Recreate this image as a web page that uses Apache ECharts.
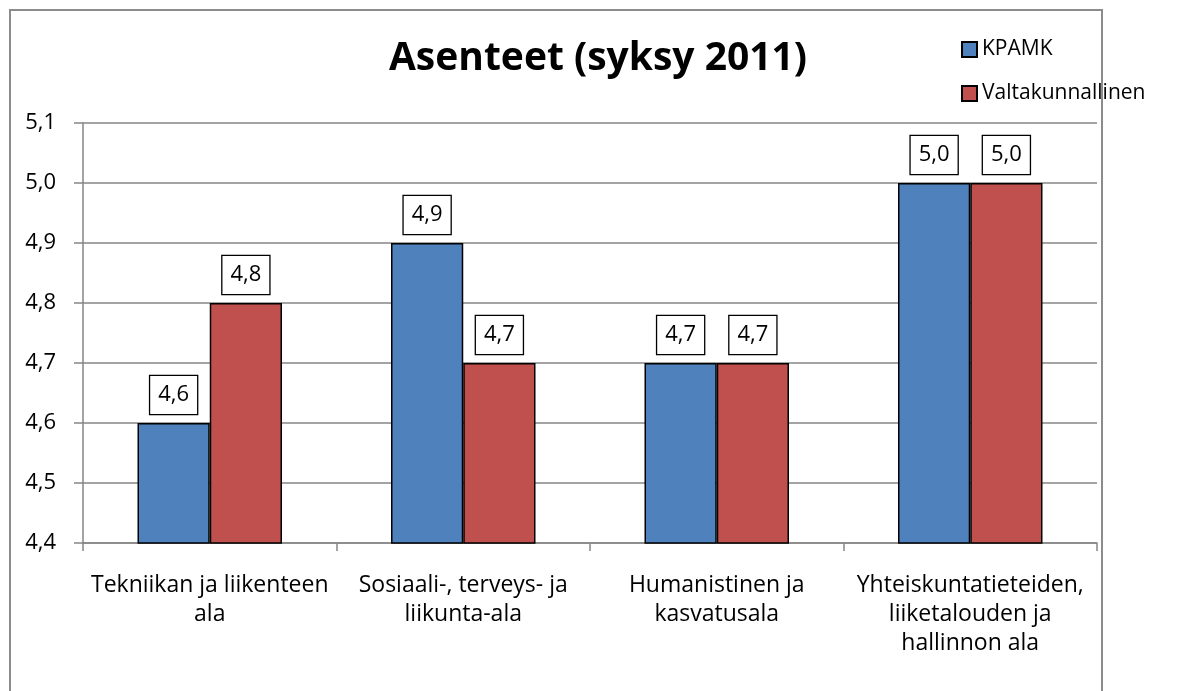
<!DOCTYPE html>
<html>
<head>
<meta charset="utf-8">
<script src="https://cdn.jsdelivr.net/npm/echarts@6/dist/echarts.min.js"></script>
<style>
  html, body { margin: 0; padding: 0; background: #fff; }
  #frame { position: absolute; left: 9px; top: 9px; width: 1090px; height: 700px; border: 2px solid #8c8c8c; }
  #main { position: absolute; left: 0; top: 0; width: 1184px; height: 691px; }
</style>
</head>
<body>
<div id="frame"></div>
<div id="main"></div>
<script>
// otsikko ja luokat
var title = 'Asenteet (syksy 2011)'
var categories = [
  'Tekniikan ja liikenteen\nala',
  'Sosiaali-, terveys- ja\nliikunta-ala',
  'Humanistinen ja\nkasvatusala',
  'Yhteiskuntatieteiden,\nliiketalouden ja\nhallinnon ala'
]
var kpamk = [4.6, 4.9, 4.7, 5.0]
var valtakunnallinen = [4.8, 4.7, 4.7, 5.0]
var yTicks = [4.4, 4.5, 4.6, 4.7, 4.8, 4.9, 5.0, 5.1]

var fontName = '"Open Sans", sans-serif'

function fmt(v) {
  return v.toFixed(1).replace('.', ',')
}

var labelStyle = {
  show: true,
  position: 'top',
  distance: 9,
  formatter: function (p) { return fmt(p.value) },
  color: '#000',
  fontFamily: fontName,
  fontSize: 22,
  lineHeight: 22,
  borderColor: '#000',
  borderWidth: 1.3,
  backgroundColor: '#fff',
  padding: [8, 8, 8, 8]
}

var myChart = echarts.init(document.getElementById('main'))
myChart.setOption({
  animation: false,
  title: {
    text: title,
    left: 593,
    textAlign: 'center',
    top: 34,
    textStyle: { fontFamily: fontName, fontSize: 39, fontWeight: 'bold', color: '#000' }
  },
  legend: {
    orient: 'vertical',
    left: 956,
    top: 34,
    itemWidth: 15,
    itemHeight: 15,
    itemGap: 23,
    icon: 'rect',
    textStyle: { fontFamily: fontName, fontSize: 21, color: '#000' },
    data: ['KPAMK', 'Valtakunnallinen']
  },
  grid: { left: 83, right: 87, top: 123, bottom: 148, containLabel: false },
  xAxis: {
    type: 'category',
    data: categories,
    axisLine: { lineStyle: { color: '#868686', width: 1.5 } },
    axisTick: { show: true, length: 8, lineStyle: { color: '#868686', width: 1.5 } },
    axisLabel: {
      color: '#000', fontFamily: fontName, fontSize: 23, lineHeight: 29, margin: 28, interval: 0
    }
  },
  yAxis: {
    type: 'value',
    min: 4.4,
    max: 5.1,
    interval: 0.1,
    axisLine: { show: true, lineStyle: { color: '#868686', width: 1.5 } },
    axisTick: { show: true, length: 9, lineStyle: { color: '#868686', width: 1.5 } },
    axisLabel: {
      color: '#000', fontFamily: fontName, fontSize: 22, margin: 27,
      formatter: function (v) { return fmt(v) }
    },
    splitLine: { lineStyle: { color: '#868686', width: 1.5 } }
  },
  series: [
    {
      name: 'KPAMK',
      type: 'bar',
      data: kpamk,
      barGap: '0%',
      barCategoryGap: '43%',
      itemStyle: { color: '#4F81BD', borderColor: '#000', borderWidth: 1.5 },
      label: labelStyle
    },
    {
      name: 'Valtakunnallinen',
      type: 'bar',
      data: valtakunnallinen,
      barGap: '0%',
      barCategoryGap: '43%',
      itemStyle: { color: '#C0504D', borderColor: '#000', borderWidth: 1.5 },
      label: labelStyle
    }
  ]
})
</script>
</body>
</html>
